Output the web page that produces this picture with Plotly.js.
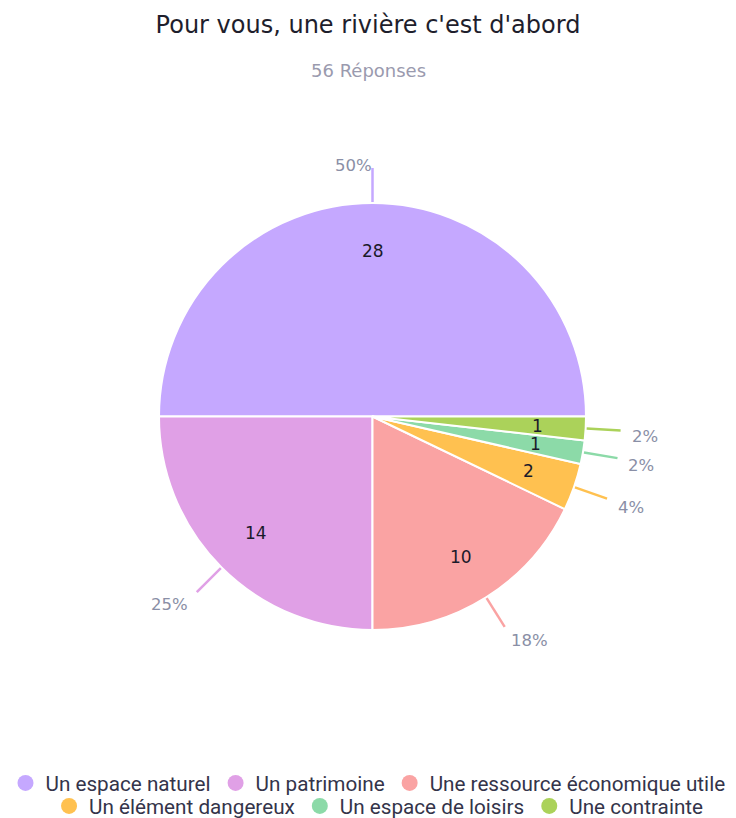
<!DOCTYPE html>
<html>
<head>
<meta charset="utf-8">
<script src="https://cdn.plot.ly/plotly-3.0.1.min.js"></script>
<style>html,body{margin:0;padding:0;background:#fff;}#chart{width:736px;height:818px;}</style>
</head>
<body>
<div id="chart"></div>
<script>
const categories = ["Un espace naturel", "Un patrimoine", "Une ressource économique utile", "Un élément dangereux", "Un espace de loisirs", "Une contrainte"];
const counts = [28, 14, 10, 2, 1, 1];
const colors = ["#c5a8ff", "#e0a0e6", "#faa3a3", "#ffc150", "#8cdaa8", "#abd25a"];
const legendRows = ["legend", "legend", "legend", "legend2", "legend2", "legend2"];
const titleText = "Pour vous, une rivière c'est d'abord";
const subtitleText = "56 Réponses";

const W = 736, H = 818;
const cx = 372.5, cy = 416.5, R = 213.5;
const px2x = p => p / W;
const py2y = p => 1 - p / H;
const total = counts.reduce((a, b) => a + b, 0);
const WIDE = "'DejaVu Sans', Verdana, sans-serif";
const LEG = "Roboto, 'Liberation Sans', Arial, sans-serif";

const traces = [{
  type: "pie",
  labels: categories,
  values: counts,
  sort: false,
  direction: "counterclockwise",
  rotation: -90,
  marker: {colors: colors, line: {color: "#ffffff", width: 2}},
  textinfo: "none",
  hoverinfo: "label+value+percent",
  showlegend: false,
  domain: {x: [px2x(cx - R), px2x(cx + R)], y: [py2y(cy + R), py2y(cy - R)]}
}];

categories.forEach((c, i) => {
  traces.push({
    type: "scatter", mode: "markers", x: [null], y: [null],
    name: c, legend: legendRows[i],
    marker: {color: colors[i], size: 16, symbol: "circle"},
    showlegend: true, hoverinfo: "skip"
  });
});

const shapes = [];
const annotations = [{
  text: subtitleText, xref: "paper", yref: "paper", x: 0.5, y: py2y(70),
  xanchor: "center", yanchor: "middle", showarrow: false,
  font: {family: WIDE, size: 18, color: "#9a9aae"}
}];

let cum = 0;
counts.forEach((v, i) => {
  const mid = 2 * Math.PI * (cum + v / 2) / total;
  cum += v;
  const c = Math.cos(mid), s = Math.sin(mid);
  const ri = R * 0.775;
  annotations.push({
    text: String(v), xref: "paper", yref: "paper",
    x: px2x(cx + ri * c), y: py2y(cy - ri * s),
    xanchor: "center", yanchor: "middle", showarrow: false,
    font: {family: WIDE, size: 17, color: "#1a1a2a"}
  });
  const r0 = R + 1, r1 = R + 35;
  const x0 = cx + r0 * c, y0 = cy - r0 * s, x1 = cx + r1 * c, y1 = cy - r1 * s;
  shapes.push({
    type: "line", xref: "paper", yref: "paper",
    x0: px2x(x0), y0: py2y(y0), x1: px2x(x1), y1: py2y(y1),
    line: {color: colors[i], width: 2.5}
  });
  const pct = Math.round(v / total * 100) + "%";
  let tx, ty, xa;
  if (Math.abs(c) < 0.1) {
    tx = x1 + 1; ty = y1 - 3; xa = "right";
  } else {
    tx = x1 + 9 * c; ty = y1 + 6 + 9 * Math.abs(s); xa = c > 0 ? "left" : "right";
  }
  annotations.push({
    text: pct, xref: "paper", yref: "paper",
    x: px2x(tx), y: py2y(ty), xanchor: xa, yanchor: "middle", showarrow: false,
    font: {family: WIDE, size: 16.5, color: "#8a8fa6"}
  });
});

const legCommon = {
  orientation: "h", x: 0.5, xanchor: "center", yanchor: "middle",
  font: {family: LEG, size: 20.7, color: "#34344a"},
  itemwidth: 30, traceorder: "normal", bgcolor: "rgba(0,0,0,0)"
};

const layout = {
  width: W, height: H,
  margin: {l: 0, r: 0, t: 0, b: 0, autoexpand: false},
  paper_bgcolor: "#ffffff", plot_bgcolor: "#ffffff",
  title: {
    text: titleText, x: 0.5, xanchor: "center", xref: "paper",
    y: py2y(25), yanchor: "middle", yref: "paper",
    font: {family: WIDE, size: 24, color: "#1e1e2c"}
  },
  xaxis: {visible: false}, yaxis: {visible: false},
  showlegend: true,
  legend: Object.assign({}, legCommon, {y: py2y(783)}),
  legend2: Object.assign({}, legCommon, {y: py2y(806), x: 0.515}),
  shapes: shapes,
  annotations: annotations
};

Plotly.newPlot("chart", traces, layout, {displayModeBar: false, staticPlot: true});
</script>
</body>
</html>
